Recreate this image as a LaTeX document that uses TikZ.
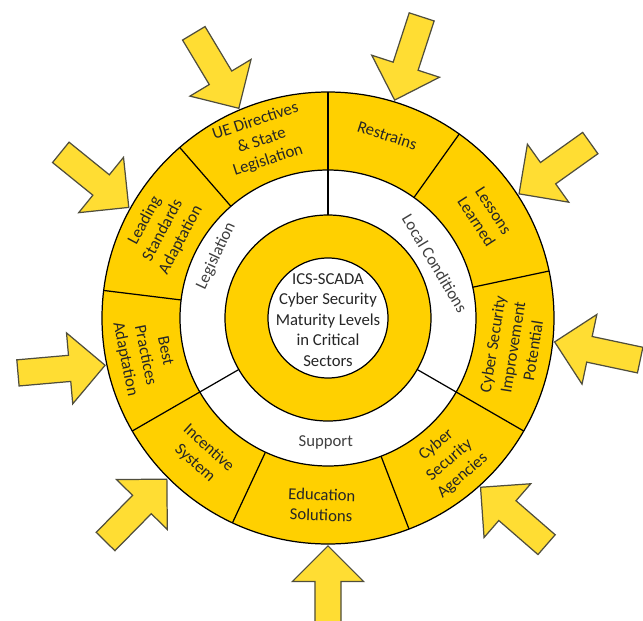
\documentclass[tikz,border=0pt]{standalone}
\usepackage{fontspec}
\setmainfont{Carlito}
\usetikzlibrary{shapes.arrows}
\definecolor{ringyellow}{RGB}{255,208,0}
\definecolor{arrowyellow}{RGB}{255,221,51}
\definecolor{arrowline}{RGB}{80,78,60}

\begin{document}
\begin{tikzpicture}[x=0.02cm,y=0.02cm,
  font=\fontsize{9.5}{11.6}\selectfont,
  inarrow/.style={single arrow, draw=arrowline, fill=arrowyellow, line width=0.7pt,
    minimum height=1.75cm, inner sep=0.25cm, single arrow head extend=0.45cm,
    single arrow tip angle=90},
  seglabel/.style={align=center, text=black!85, inner sep=0pt},
  ringlabel/.style={text=black!75, inner sep=0pt}]
\useasboundingbox (-328,-302) rectangle (315,318);

% arrows pointing in
\foreach \tipang/\dir [count=\i] in {113/-59, 73/252, 33/215.5, -6/168, -48/139,
    -90/90, 225/45.5, 192/5, 151/-39}
  \node[inarrow, rotate=\dir, anchor=tip] (arrow\i) at (\tipang:227) {};

% rings
\draw[fill=ringyellow, line width=0.7pt] (0,0) circle[radius=226];
\draw[fill=white, line width=0.7pt]      (0,0) circle[radius=148];
\draw[fill=ringyellow, line width=0.7pt] (0,0) circle[radius=103];
\draw[fill=white, line width=0.7pt]      (0,0) circle[radius=60];

% dividers
\foreach \a in {90,210,330}
  \draw[line width=0.7pt] (\a:103) -- (\a:226);
\foreach \a in {12,54.5,131,173,245,291}
  \draw[line width=0.7pt] (\a:148) -- (\a:226);

% outer ring
\node[seglabel, rotate=18]    (directives)  at (110.5:189) {UE Directives\\\& State\\Legislation};
\node[seglabel, rotate=-18]   (restrains)   at (72:192)    {Restrains};
\node[seglabel, rotate=-57]   (lessons)     at (33:187)    {Lessons\\Learned};
\node[seglabel, rotate=81]    (improvement) at (-9:187)    {Cyber Security\\Improvement\\Potential};
\node[seglabel, rotate=40.5]  (agencies)    at (-49.5:187) {Cyber\\Security\\Agencies};
\node[seglabel, rotate=-2]    (education)   at (-92:187)   {Education\\Solutions};
\node[seglabel, rotate=-42.5] (incentive)   at (227.5:187) {Incentive\\System};
\node[seglabel, rotate=-78.5] (practices)   at (191.5:187) {Best\\Practices\\Adaptation};
\node[seglabel, rotate=62]    (standards)   at (152:187)   {Leading\\Standards\\Adaptation};

% inner ring
\node[ringlabel, rotate=65]  (legislation) at (151:128) {Legislation};
\node[ringlabel, rotate=-59] (conditions)  at (27:120)  {Local Conditions};
\node[ringlabel]             (support)     at (-91:124) {Support};

\node[seglabel] (core) at (0,-2) {ICS-SCADA\\Cyber Security\\Maturity Levels\\in Critical\\Sectors};
\end{tikzpicture}
\end{document}
